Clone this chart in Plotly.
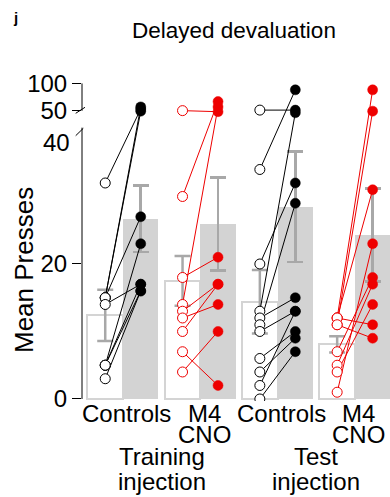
import plotly.graph_objects as go

# ---------------- data ----------------
group_line1 = ["Controls", "M4", "Controls", "M4"]
group_line2 = ["", "CNO", "", "CNO"]
injection_line1 = ["Training", "Test"]
injection_line2 = ["injection", "injection"]

pre_mean = [12.4, 17.5, 14.4, 8.1]
pre_sem = [3.8, 3.7, 4.7, 1.2]
post_mean = [26.7, 25.9, 28.5, 24.3]
post_sem = [4.9, 6.9, 8.2, 6.9]

ctrl_training_pre = [32, 15, 15, 15, 14, 5, 5, 5, 3]
ctrl_training_post = [52, 56, 48, 27, 17, 23, 17, 16, 16]

m4_training_pre = [49, 30, 18, 14, 13, 12, 10, 7, 4]
m4_training_post = [47, 66, 21, 56, 17, 14, 17, 2, 10]

ctrl_test_pre = [50, 34, 20, 13, 12, 11, 10, 6, 4, 2, 0]
ctrl_test_post = [50, 88, 32, 45, 15, 29, 13, 10, 9, 13, 7]

m4_test_pre = [12, 11, 12, 12, 11, 7, 5, 4, 1]
m4_test_post = [88, 48, 31, 11, 9, 18, 17, 14, 23]

pre_points = [ctrl_training_pre, m4_training_pre, ctrl_test_pre, m4_test_pre]
post_points = [ctrl_training_post, m4_training_post, ctrl_test_post, m4_test_post]
group_colors = ["#000000", "#ee0000", "#000000", "#ee0000"]

y_tick_values = [0, 20, 50, 100]
y_tick_labels = ["0", "20", "50", "100"]

# ---------------- broken-axis mapping ----------------
LOWER_MAX = 40
UPPER_BASE = 42.8   # display position of value 50
UPPER_SCALE = 0.079


def disp(v):
    return v if v <= LOWER_MAX else UPPER_BASE + (v - 50) * UPPER_SCALE


W, H = 390, 497
ML, MR, MT, MB = 82, 0, 75, 96
Y0, Y1 = -0.3, 48.0
X0, X1 = -0.530, 3.454
BAR_W = 0.459
PW, PH = W - ML - MR, H - MT - MB


def yp(d):  # display value -> paper
    return (d - Y0) / (Y1 - Y0)


def ypx(px):  # pixel row -> paper
    return (H - MB - px) / PH


def xpx(px):  # pixel column -> paper
    return (px - ML) / PW


gx = list(range(len(pre_mean)))
open_x = [g - BAR_W / 2 for g in gx]
fill_x = [g + BAR_W / 2 for g in gx]

fig = go.Figure()

fig.add_trace(go.Bar(
    x=open_x, y=pre_mean, width=BAR_W,
    marker=dict(color="white", line=dict(color="#d4d4d4", width=2)),
    error_y=dict(type="data", array=pre_sem, color="#a8a8a8", thickness=2.5, width=8),
    showlegend=False, hoverinfo="skip"))
fig.add_trace(go.Bar(
    x=fill_x, y=post_mean, width=BAR_W,
    marker=dict(color="#d3d3d3", line=dict(width=0)),
    error_y=dict(type="data", array=post_sem, color="#a8a8a8", thickness=2.5, width=8),
    showlegend=False, hoverinfo="skip"))

for g in gx:
    col = group_colors[g]
    lx, ly = [], []
    for a, b in zip(pre_points[g], post_points[g]):
        lx += [open_x[g], fill_x[g], None]
        ly += [disp(a), disp(b), None]
    fig.add_trace(go.Scatter(x=lx, y=ly, mode="lines",
                             line=dict(color=col, width=1),
                             showlegend=False, hoverinfo="skip"))
for g in gx:
    col = group_colors[g]
    fig.add_trace(go.Scatter(
        x=[open_x[g]] * len(pre_points[g]), y=[disp(v) for v in pre_points[g]],
        mode="markers",
        marker=dict(size=10, color="white", line=dict(color=col, width=1)),
        showlegend=False, hoverinfo="skip"))
    fig.add_trace(go.Scatter(
        x=[fill_x[g]] * len(post_points[g]), y=[disp(v) for v in post_points[g]],
        mode="markers",
        marker=dict(size=10, color=col, line=dict(color=col, width=0.5)),
        showlegend=False, hoverinfo="skip"))

# axis lines with break
shapes = [
    dict(type="line", xref="paper", yref="paper", x0=0, x1=0,
         y0=yp(0), y1=yp(40.2), line=dict(color="black", width=1)),
    dict(type="line", xref="paper", yref="paper", x0=0, x1=0,
         y0=yp(UPPER_BASE - 0.1), y1=yp(disp(100)), line=dict(color="black", width=1)),
    dict(type="line", xref="paper", yref="paper", x0=xpx(75.7), x1=xpx(85),
         y0=ypx(113.3), y1=ypx(107.3), line=dict(color="black", width=1)),
    dict(type="line", xref="paper", yref="paper", x0=xpx(75.7), x1=xpx(83.3),
         y0=ypx(135.7), y1=ypx(128.3), line=dict(color="black", width=1)),
]

FONT = "Liberation Sans, Arial, sans-serif"
ann = []
label_dx = 0.05
for g in gx:
    ann.append(dict(x=g + label_dx, xref="x", y=ypx(413.5), yref="paper",
                    text=group_line1[g], showarrow=False, xanchor="center", yanchor="middle",
                    font=dict(size=24, color="black", family=FONT)))
    if group_line2[g]:
        ann.append(dict(x=g + label_dx, xref="x", y=ypx(434.7), yref="paper",
                        text=group_line2[g], showarrow=False, xanchor="center", yanchor="middle",
                        font=dict(size=24, color="black", family=FONT)))
for i in range(2):
    cx = 2 * i + 0.5
    ann.append(dict(x=cx, xref="x", y=ypx(456.7), yref="paper", text=injection_line1[i],
                    showarrow=False, xanchor="center", yanchor="middle",
                    font=dict(size=24, color="black", family=FONT)))
    ann.append(dict(x=cx, xref="x", y=ypx(481.5), yref="paper", text=injection_line2[i],
                    showarrow=False, xanchor="center", yanchor="middle",
                    font=dict(size=24, color="black", family=FONT)))
ann.append(dict(x=xpx(72), xref="paper", y=ypx(142), yref="paper", text="40",
                showarrow=False, xanchor="right", yanchor="middle",
                font=dict(size=24, color="black", family=FONT)))
ann.append(dict(x=xpx(234), xref="paper", y=ypx(30.5), yref="paper", text="Delayed devaluation",
                showarrow=False, xanchor="center", yanchor="middle",
                font=dict(size=22.5, color="black", family=FONT)))
ann.append(dict(x=xpx(15.5), xref="paper", y=ypx(18), yref="paper", text="<b>j</b>",
                showarrow=False, xanchor="center", yanchor="middle",
                font=dict(size=15, color="black", family=FONT)))
ann.append(dict(x=xpx(24), xref="paper", y=ypx(270), yref="paper", text="Mean Presses",
                showarrow=False, xanchor="center", yanchor="middle", textangle=-90,
                font=dict(size=26, color="black", family=FONT)))

fig.update_layout(
    width=W, height=H,
    margin=dict(l=ML, r=MR, t=MT, b=MB),
    plot_bgcolor="white", paper_bgcolor="white",
    barmode="overlay", bargap=0,
    shapes=shapes, annotations=ann,
    font=dict(family=FONT, color="black"),
    xaxis=dict(range=[X0, X1], showgrid=False, zeroline=False, showline=False,
               showticklabels=False, ticks=""),
    yaxis=dict(range=[Y0, Y1], showgrid=False, zeroline=False, showline=False,
               tickmode="array", tickvals=[disp(v) for v in y_tick_values],
               ticktext=y_tick_labels, ticks="outside", ticklen=9, tickwidth=1,
               tickcolor="black", tickfont=dict(size=24, color="black", family=FONT)),
)

fig.write_html(
    "out.html",
    config={"displayModeBar": False},
    post_script="document.body.style.margin='0px'; document.body.style.overflow='hidden';",
)
